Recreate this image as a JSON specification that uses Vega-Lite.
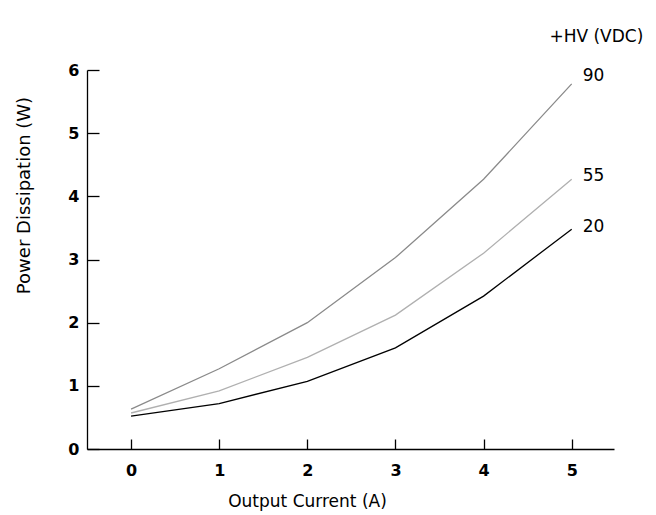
{
  "$schema": "https://vega.github.io/schema/vega-lite/v6.json",
  "autosize": {"type": "none"},
  "padding": {"left": 87, "top": 70, "right": 42, "bottom": 66},
  "width": 527,
  "height": 379,
  "background": "white",
  "config": {
    "view": {"stroke": null},
    "font": "DejaVu Sans"
  },
  "datasets": {
    "curves": [
      {"current": 0, "power": 0.63, "hv": "90"},
      {"current": 1, "power": 1.27, "hv": "90"},
      {"current": 2, "power": 2.0, "hv": "90"},
      {"current": 3, "power": 3.03, "hv": "90"},
      {"current": 4, "power": 4.27, "hv": "90"},
      {"current": 5, "power": 5.78, "hv": "90"},
      {"current": 0, "power": 0.57, "hv": "55"},
      {"current": 1, "power": 0.92, "hv": "55"},
      {"current": 2, "power": 1.45, "hv": "55"},
      {"current": 3, "power": 2.12, "hv": "55"},
      {"current": 4, "power": 3.1, "hv": "55"},
      {"current": 5, "power": 4.27, "hv": "55"},
      {"current": 0, "power": 0.52, "hv": "20"},
      {"current": 1, "power": 0.72, "hv": "20"},
      {"current": 2, "power": 1.07, "hv": "20"},
      {"current": 3, "power": 1.6, "hv": "20"},
      {"current": 4, "power": 2.42, "hv": "20"},
      {"current": 5, "power": 3.48, "hv": "20"}
    ],
    "labels": [
      {"current": 5, "power": 5.9, "hv": "90"},
      {"current": 5, "power": 4.32, "hv": "55"},
      {"current": 5, "power": 3.52, "hv": "20"}
    ],
    "legendTitle": [
      {"current": 5.28, "power": 6.52, "text": "+HV (VDC)"}
    ]
  },
  "layer": [
    {
      "data": {"name": "curves"},
      "mark": {"type": "line", "strokeWidth": 1.3},
      "encoding": {
        "x": {
          "field": "current", "type": "quantitative",
          "scale": {"domain": [-0.5, 5.48], "nice": false, "zero": false},
          "axis": {
            "title": "Output Current (A)",
            "values": [0, 1, 2, 3, 4, 5],
            "format": "d",
            "grid": false,
            "domainColor": "black",
            "domainWidth": 1.3,
            "tickColor": "black",
            "tickWidth": 1.3,
            "tickSize": -10,
            "labelPadding": 23,
            "labelFont": "DejaVu Sans",
            "labelFontWeight": "bold",
            "labelFontSize": 16,
            "labelColor": "black",
            "titleFont": "DejaVu Sans",
            "titleFontWeight": "normal",
            "titleFontSize": 17,
            "titleColor": "black",
            "titleX": 220,
            "titleY": 52,
            "titleBaseline": "middle"
          }
        },
        "y": {
          "field": "power", "type": "quantitative",
          "scale": {"domain": [0, 6], "nice": false},
          "axis": {
            "title": "Power Dissipation (W)",
            "values": [0, 1, 2, 3, 4, 5, 6],
            "format": "d",
            "grid": false,
            "domainColor": "black",
            "domainWidth": 1.3,
            "tickColor": "black",
            "tickWidth": 1.3,
            "tickSize": -12,
            "labelPadding": 20,
            "labelFont": "DejaVu Sans",
            "labelFontWeight": "bold",
            "labelFontSize": 16,
            "labelColor": "black",
            "titleFont": "DejaVu Sans",
            "titleFontWeight": "normal",
            "titleFontSize": 18,
            "titleColor": "black",
            "titleX": -63,
            "titleY": 125,
            "titleBaseline": "middle"
          }
        },
        "color": {
          "field": "hv", "type": "nominal",
          "scale": {"domain": ["90", "55", "20"], "range": ["#8a8a8a", "#b0b0b0", "#000000"]},
          "legend": null
        }
      }
    },
    {
      "data": {"name": "labels"},
      "mark": {"type": "text", "align": "left", "dx": 11, "fontSize": 17, "font": "DejaVu Sans", "color": "black", "baseline": "middle"},
      "encoding": {
        "x": {"field": "current", "type": "quantitative"},
        "y": {"field": "power", "type": "quantitative"},
        "text": {"field": "hv"}
      }
    },
    {
      "data": {"name": "legendTitle"},
      "mark": {"type": "text", "align": "center", "fontSize": 17, "font": "DejaVu Sans", "color": "black", "baseline": "middle", "clip": false},
      "encoding": {
        "x": {"field": "current", "type": "quantitative"},
        "y": {"field": "power", "type": "quantitative"},
        "text": {"field": "text"}
      }
    }
  ]
}
